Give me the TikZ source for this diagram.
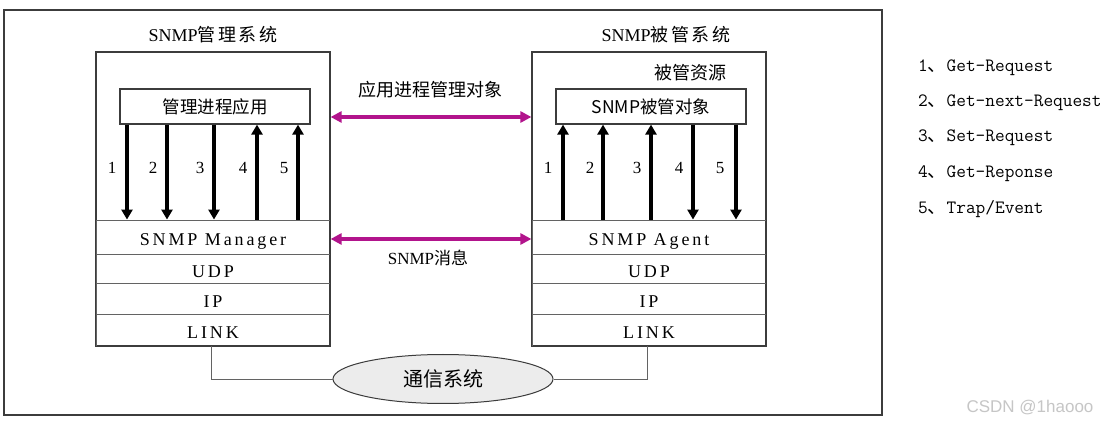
\documentclass[tikz,border=0pt]{standalone}
\usepackage{fontspec}
\usetikzlibrary{arrows.meta,shapes.geometric}
\setmainfont{Liberation Serif}
\newfontfamily\cjk{Noto Sans CJK SC}
\newfontfamily\cjkw{Noto Sans CJK SC}[LetterSpace=14]
\newfontfamily\lay{Liberation Serif}[LetterSpace=16]
\newfontfamily\lmm{Latin Modern Mono}
\newfontfamily\wm{Liberation Sans}
\definecolor{mag}{RGB}{178,20,140}
\definecolor{frame}{RGB}{60,60,60}
\tikzset{
  x=1pt,y=-1pt,
  box/.style={draw=frame,line width=1.2pt,inner sep=0pt},
  layer/.style={draw=frame!80,line width=0.9pt,minimum width=234pt,inner sep=0pt,text height=18pt,text depth=0pt,font=\lay\fontsize{18}{18}\selectfont},
  app/.style={draw=frame,line width=1.2pt,minimum width=190pt,minimum height=35pt,inner sep=0pt},
  blk/.style={line width=3.6pt,-{Triangle[length=10pt,width=11pt]}},
  magarrow/.style={draw=mag,line width=3.4pt,{Triangle[length=11pt,width=11pt]}-{Triangle[length=11pt,width=11pt]}},
  num/.style={font=\fontsize{17}{17}\selectfont,inner sep=0pt},
  leg/.style={anchor=west,inner sep=0pt,font=\lmm\fontsize{18.8}{18.8}\selectfont},
  lbl/.style={inner sep=0pt,font=\cjk\fontsize{17}{17}\selectfont}
}
\begin{document}
\begin{tikzpicture}
\useasboundingbox (0,0) rectangle (1111,427);
\fill[white] (0,0) rectangle (1111,427);
% outer frame
\node[box,minimum width=878pt,minimum height=405pt,line width=1.3pt] (outer) at (443,212.5) {};
% left system
\node[box,minimum width=234pt,minimum height=294pt] (lsys) at (213,199) {};
\node[inner sep=0pt] (ltitle) at (213,35) {\fontsize{18}{18}\selectfont SNMP{\cjkw 管理系统}};
\node[app] (lapp) at (215,106.5) {\cjk\fontsize{17.5}{17.5}\selectfont 管理进程应用};
\node[layer,minimum height=34pt] (lmgr) at (213,237) {SNMP Manager};
\node[layer,minimum height=29pt] (ludp) at (213,268.5) {UDP};
\node[layer,minimum height=31pt] (lip) at (213,298.5) {IP};
\node[layer,minimum height=32pt] (llink) at (213,330) {LINK};
\draw[box] (lsys.north west) rectangle (lsys.south east);
% left arrows
\draw[blk] (127,0 |- lapp.south) -- (127,0 |- lmgr.north);
\draw[blk] (167,0 |- lapp.south) -- (167,0 |- lmgr.north);
\draw[blk] (214,0 |- lapp.south) -- (214,0 |- lmgr.north);
\draw[blk] (257,0 |- lmgr.north) -- (257,0 |- lapp.south);
\draw[blk] (298,0 |- lmgr.north) -- (298,0 |- lapp.south);
\node[num] (ln1) at (112,168) {1};
\node[num] (ln2) at (153,168) {2};
\node[num] (ln3) at (200,168) {3};
\node[num] (ln4) at (243,168) {4};
\node[num] (ln5) at (284,168) {5};
% right system
\node[box,minimum width=234pt,minimum height=294pt] (rsys) at (649,199) {};
\node[inner sep=0pt] (rtitle) at (666,35) {\fontsize{18}{18}\selectfont SNMP{\cjkw 被管系统}};
\node[lbl,font=\cjk\fontsize{18}{18}\selectfont] (res) at (690,73) {被管资源};
\node[app] (rapp) at (651,106.5) {\cjk\fontsize{17.5}{17.5}\selectfont SNMP被管对象};
\node[layer,minimum height=34pt] (ragt) at (649,237) {SNMP Agent};
\node[layer,minimum height=29pt] (rudp) at (649,268.5) {UDP};
\node[layer,minimum height=31pt] (rip) at (649,298.5) {IP};
\node[layer,minimum height=32pt] (rlink) at (649,330) {LINK};
\draw[box] (rsys.north west) rectangle (rsys.south east);
% right arrows
\draw[blk] (563,0 |- ragt.north) -- (563,0 |- rapp.south);
\draw[blk] (603,0 |- ragt.north) -- (603,0 |- rapp.south);
\draw[blk] (651,0 |- ragt.north) -- (651,0 |- rapp.south);
\draw[blk] (693,0 |- rapp.south) -- (693,0 |- ragt.north);
\draw[blk] (736,0 |- rapp.south) -- (736,0 |- ragt.north);
\node[num] (rn1) at (548,168) {1};
\node[num] (rn2) at (590,168) {2};
\node[num] (rn3) at (637,168) {3};
\node[num] (rn4) at (679,168) {4};
\node[num] (rn5) at (720,168) {5};
% magenta arrows
\draw[magarrow] (lsys.east |- 0,117) -- (rsys.west |- 0,117);
\draw[magarrow] (lsys.east |- 0,239) -- (rsys.west |- 0,239);
\node[lbl,font=\cjk\fontsize{18}{18}\selectfont] (msg1) at (430,90) {应用进程管理对象};
\node[inner sep=0pt] (msg2) at (428,258) {\fontsize{17}{17}\selectfont SNMP{\cjk 消息}};
% communication system
\node[draw=frame,line width=1pt,fill=gray!15,ellipse,minimum width=220pt,minimum height=49pt,inner sep=0pt] (comm) at (443,379) {\cjk\fontsize{20}{20}\selectfont 通信系统};
\draw[frame!80,line width=0.9pt] (211,0 |- llink.south) |- (comm.west);
\draw[frame!80,line width=0.9pt] (647,0 |- rlink.south) |- (comm.east);
% legend
\node[leg] (g1) at (918,68) {1{\cjk 、}Get-Request};
\node[leg] (g2) at (918,103) {2{\cjk 、}Get-next-Request};
\node[leg] (g3) at (918,138) {3{\cjk 、}Set-Request};
\node[leg] (g4) at (918,174) {4{\cjk 、}Get-Reponse};
\node[leg] (g5) at (918,209) {5{\cjk 、}Trap/Event};
% watermark
\node[inner sep=0pt,text=gray!45,font=\wm\fontsize{17}{17}\selectfont] (wmark) at (1030,408) {CSDN @1haooo};
\end{tikzpicture}
\end{document}
